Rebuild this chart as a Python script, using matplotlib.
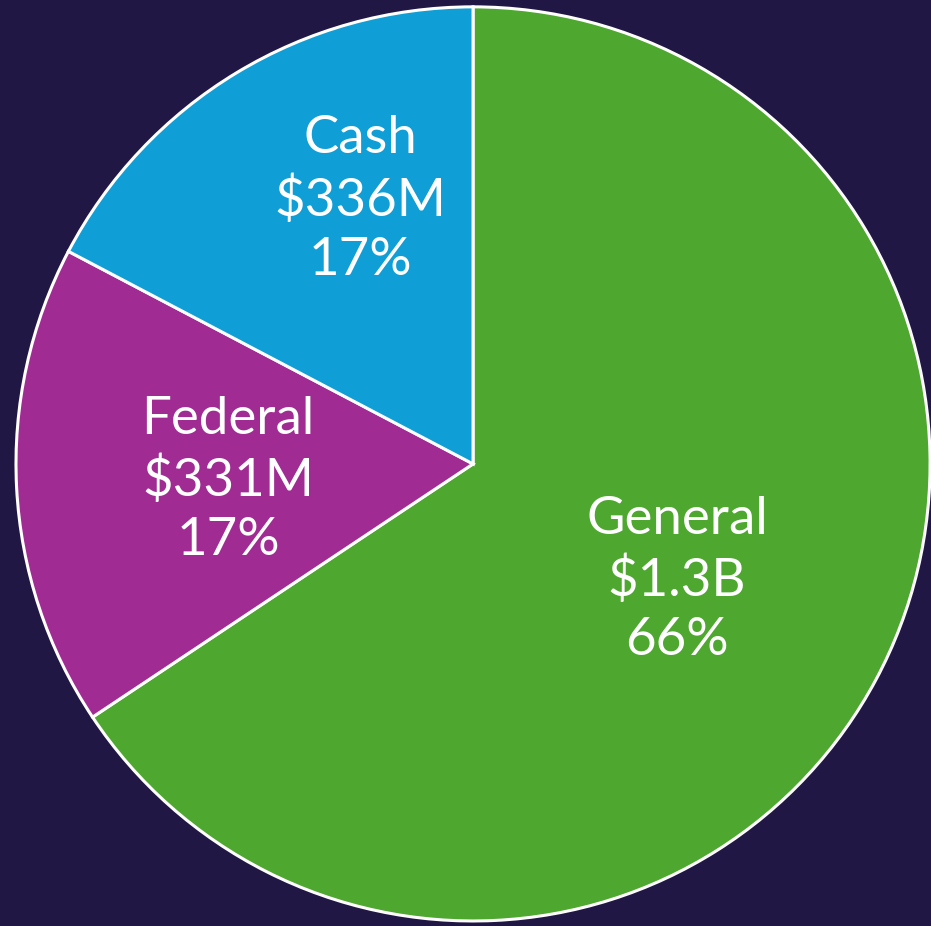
import matplotlib
matplotlib.use("Agg")
import matplotlib.pyplot as plt

# Funding sources
labels = ["General", "Federal", "Cash"]
amounts = [1275, 331, 336]  # $M
amount_text = ["$1.3B", "$331M", "$336M"]
colors = ["#4EA72E", "#A02B93", "#0F9ED5"]

bg = "#211745"

fig = plt.figure(figsize=(9.31, 9.26), dpi=100, facecolor=bg)
ax = fig.add_axes([0, 0, 1, 1])
ax.set_facecolor(bg)

ax.pie(amounts, colors=colors, startangle=90, counterclock=False,
       wedgeprops=dict(edgecolor="white", linewidth=2.2))

ax.set_xlim(-1.035, 1.002)
ax.set_ylim(-1.011, 1.015)
ax.set_aspect("auto")
ax.axis("off")

total = sum(amounts)
label_pos = [(0.446, -0.254), (-0.536, -0.035), (-0.247, 0.578)]
for name, amt, val, (x, y) in zip(labels, amount_text, amounts, label_pos):
    pct = round(val / total * 100)
    ax.text(x, y, f"{name}\n{amt}\n{pct}%", ha="center", va="center",
            color="white", fontsize=38, family="Lato",
            linespacing=1.32)

fig.savefig("out.png", dpi=100, facecolor=bg)
